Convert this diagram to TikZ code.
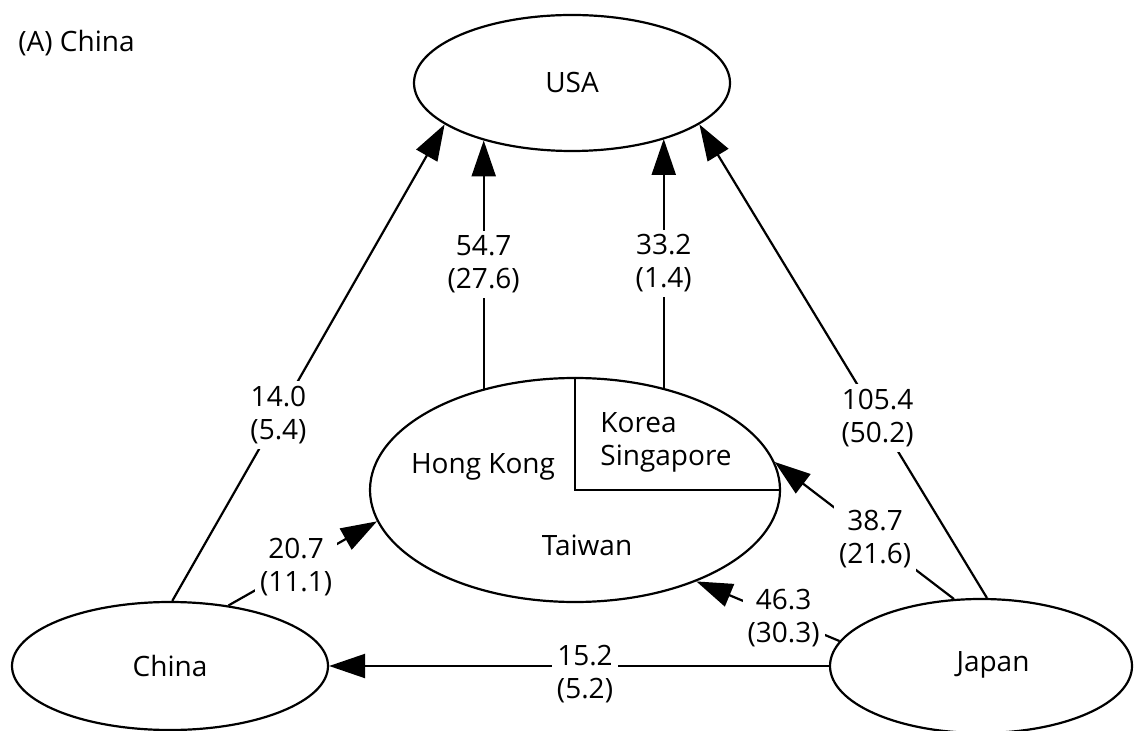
\documentclass[tikz,border=0pt]{standalone}
\usepackage{fontspec}
\setmainfont{Open Sans}
\usetikzlibrary{shapes.geometric,arrows.meta}

\tikzset{
  region/.style={draw, ellipse, line width=1.1pt, inner sep=0pt},
  flow/.style={line width=1.1pt, -{Triangle[length=18pt,width=12pt]}},
  val/.style={fill=white, align=center, inner sep=2.5pt},
  txt/.style={inner sep=0pt, align=center},
}

\begin{document}
\begin{tikzpicture}[x=0.5pt, y=-0.5pt, font=\fontsize{14}{16.5}\selectfont]
  \useasboundingbox (0,0) rectangle (1138,731);

  % panel title
  \node[txt, anchor=west] (title) at (18,43) {(A) China};

  % trading regions
  \node[region, minimum width=158pt, minimum height=68pt] (usa) at (572,83) {USA};
  \node[region, minimum width=205pt, minimum height=112pt] (mid) at (575,490) {};
  \node[region, minimum width=158pt, minimum height=64pt] (china) at (170,666) {China};
  \node[region, minimum width=151pt, minimum height=67pt] (japan) at (981,666) {};
  \node[txt] (japantext) at (993,665) {Japan};

  % partition of the middle region
  \draw[line width=1.1pt] (mid.north) -- (mid.center) -- (mid.east);
  \node[txt] (hk) at (483,467) {Hong Kong};
  \node[txt, anchor=west, align=left] (ks) at (600,442) {Korea\\Singapore};
  \node[txt] (tw) at (587,545) {Taiwan};

  % flows to the USA
  \draw[flow] (china.88) -- (usa.198)
    node[val, pos=0.39] (l1) {14.0\\(5.4)};
  \draw[flow] (mid.132) -- (mid.132 |- usa.213)
    node[val, pos=0.5] (l2) {54.7\\(27.6)};
  \draw[flow] (mid.49) -- (mid.49 |- usa.329)
    node[val, pos=0.5] (l3) {33.2\\(1.4)};
  \draw[flow] (japan.85) -- (usa.342)
    node[val, pos=0.38] (l4) {105.4\\(50.2)};

  % flows into the middle region
  \draw[flow] (china.46) -- (mid.189)
    node[val, pos=0.455] (l5) {20.7\\(11.1)};
  \draw[flow] (japan.112) -- (mid.8)
    node[val, pos=0.44] (l6) {38.7\\(21.6)};
  \draw[flow] (japan.170) -- (mid.323)
    node[val, pos=0.39] (l7) {46.3\\(30.3)};

  % Japan to China
  \draw[flow] (japan.west) -- (china.east)
    node[val, pos=0.488, yshift=-4pt] (l8) {15.2\\(5.2)};
\end{tikzpicture}
\end{document}
